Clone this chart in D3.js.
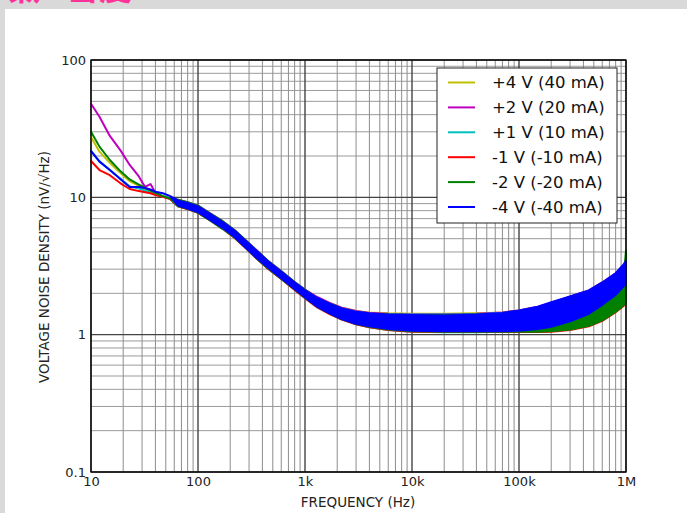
<!DOCTYPE html>
<html>
<head>
<meta charset="utf-8">
<script src="https://cdn.jsdelivr.net/npm/d3@7"></script>
<style>
body { margin:0; background:#d9d9d9; overflow:hidden; }
#chart { position:absolute; left:0; top:0; }
</style>
</head>
<body>
<div id="chart"></div>
<script>
// frequencies shared by every trace (Hz)
const freqs = [10,12,15,19,23,28,32,36,40,47,55,
  65,80,100,130,170,220,280,350,450,600,800,1000,
  1300,1700,2200,3000,4000,6000,10000,20000,40000,70000,100000,150000,200000,300000,450000,600000,800000,950000,1000000];

const names = ["+4 V (40 mA)","+2 V (20 mA)","+1 V (10 mA)","-1 V (-10 mA)","-2 V (-20 mA)","-4 V (-40 mA)"];
const colors = ["#bfbf00","#bf00bf","#00bfbf","#ff0000","#008000","#0000ff"];

// 10..55 Hz : single line
const lfYellow  = [27.5,21.5,17.8,15.0,13.1,12.1,11.4,11.0,10.6,10.1,9.8];
const lfMagenta = [48,38.6,28,21.8,17.2,14.2,11.9,12.5,10.8,10.1,9.8];
const lfCyan    = [21.9,18.3,15.8,13.6,12.0,11.6,11.2,10.8,10.5,10.2,9.8];
const lfRed     = [18.4,15.8,14.5,12.6,11.5,11.1,10.9,10.7,10.4,10.1,9.7];
const lfGreen   = [30,23.4,18.7,15.4,13.5,12.4,11.7,11.2,10.8,10.2,9.8];
const lfBlue    = [21.7,18.2,15.8,13.5,11.9,11.9,11.7,11.4,11.0,10.7,10.2];

// 65 Hz..1 MHz : lower and upper edge of the noisy trace
const loYellow  = [8.8,8.3,7.85,6.9,6.0,5.2,4.35,3.7,3.1,2.6,2.16,1.88, 1.62,1.45,1.32,1.22,1.16,1.11,1.08,1.07,1.07,1.07,1.08,1.10,1.13,1.22,1.38,1.58,1.88,2.15,2.25];
const hiYellow  = [9.5,9.1,8.65,7.6,6.65,5.75,4.85,4.1,3.45,2.9,2.42,2.12, 1.86,1.70,1.57,1.49,1.45,1.43,1.42,1.42,1.43,1.45,1.50,1.58,1.70,1.88,2.08,2.38,2.78,3.15,3.30];
const loMagenta = [8.7,8.3,7.8,6.85,6.0,5.15,4.3,3.65,3.08,2.58,2.15,1.87, 1.62,1.44,1.31,1.21,1.15,1.10,1.07,1.06,1.06,1.06,1.07,1.10,1.13,1.23,1.40,1.60,1.90,2.20,2.30];
const hiMagenta = [9.6,9.2,8.7,7.65,6.7,5.75,4.85,4.15,3.45,2.9,2.42,2.13, 1.88,1.70,1.57,1.49,1.44,1.42,1.41,1.41,1.42,1.45,1.50,1.60,1.70,1.90,2.10,2.40,2.80,3.20,3.35];
const loCyan    = [8.7,8.25,7.75,6.8,5.95,5.1,4.3,3.62,3.05,2.56,2.13,1.85, 1.60,1.42,1.30,1.19,1.13,1.08,1.05,1.04,1.04,1.05,1.06,1.09,1.12,1.20,1.36,1.56,1.85,2.10,2.20];
const hiCyan    = [9.5,9.1,8.6,7.55,6.6,5.7,4.8,4.1,3.42,2.88,2.4,2.1, 1.84,1.68,1.55,1.47,1.42,1.40,1.40,1.40,1.41,1.44,1.48,1.57,1.68,1.86,2.05,2.35,2.75,3.10,3.25];
const loRed     = [8.6,8.2,7.7,6.8,5.9,5.05,4.25,3.6,3.02,2.54,2.12,1.84, 1.58,1.41,1.29,1.19,1.13,1.08,1.05,1.045,1.045,1.045,1.045,1.045,1.05,1.08,1.15,1.26,1.46,1.62,1.73];
const hiRed     = [9.4,9.0,8.55,7.5,6.55,5.65,4.75,4.05,3.4,2.85,2.38,2.08, 1.82,1.66,1.53,1.45,1.41,1.39,1.38,1.38,1.39,1.40,1.42,1.44,1.48,1.55,1.65,1.82,2.10,2.40,2.50];
const loGreen   = [8.6,8.25,7.75,6.8,5.9,5.1,4.3,3.62,3.05,2.56,2.14,1.86, 1.60,1.43,1.30,1.20,1.14,1.09,1.06,1.05,1.05,1.05,1.05,1.05,1.06,1.09,1.16,1.27,1.47,1.64,1.75];
const hiGreen   = [9.6,9.2,8.7,7.6,6.7,5.75,4.85,4.12,3.44,2.88,2.41,2.12, 1.84,1.68,1.55,1.46,1.42,1.40,1.39,1.39,1.40,1.41,1.43,1.46,1.50,1.58,1.70,1.90,2.25,2.60,4.10];
const loBlue    = [8.7,8.3,7.8,6.85,6.0,5.15,4.3,3.65,3.08,2.58,2.15,1.87, 1.60,1.43,1.30,1.20,1.15,1.10,1.07,1.06,1.06,1.06,1.07,1.10,1.14,1.25,1.42,1.65,1.95,2.25,2.35];
const hiBlue    = [9.5,9.1,8.6,7.55,6.6,5.7,4.8,4.1,3.42,2.87,2.4,2.1, 1.85,1.68,1.55,1.47,1.43,1.40,1.39,1.38,1.40,1.44,1.50,1.60,1.72,1.90,2.10,2.40,2.80,3.25,3.45];

const xTicks = [10,100,1000,10000,100000,1000000];
const xTickLabels = ["10","100","1k","10k","100k","1M"];
const yTicks = [0.1,1,10,100];
const yTickLabels = ["0.1","1","10","100"];

const series = [
  {lf:lfYellow,  lo:loYellow,  hi:hiYellow},
  {lf:lfMagenta, lo:loMagenta, hi:hiMagenta},
  {lf:lfCyan,    lo:loCyan,    hi:hiCyan},
  {lf:lfRed,     lo:loRed,     hi:hiRed},
  {lf:lfGreen,   lo:loGreen,   hi:hiGreen},
  {lf:lfBlue,    lo:loBlue,    hi:hiBlue}
].map((s,i) => {
  let lo = s.lf.concat(s.lo), hi = s.lf.concat(s.hi);
  return {name:names[i], color:colors[i], pts:freqs.map((f,j) => ({f:f, lo:lo[j], hi:hi[j]}))};
});

const W = 687, H = 513;
const svg = d3.select("#chart").append("svg").attr("width",W).attr("height",H);

// white page panel and pink heading cut by the top edge
svg.append("rect").attr("x",5).attr("y",9).attr("width",W).attr("height",H).attr("fill","#fff");
svg.append("text").attr("x",0).attr("y",0)
  .style("font-family","'Noto Sans CJK SC'").style("font-size","33px").style("font-weight","bold")
  .attr("fill","#ff3399").text("噪声密度");

const x = d3.scaleLog().domain([10,1e6]).range([91,626]);
const y = d3.scaleLog().domain([0.1,100]).range([472,60]);

const g = svg.append("g");

// grid
let minorX = [], minorY = [];
for (let d = 10; d < 1e6; d *= 10) for (let k = 2; k <= 9; k++) minorX.push(d*k);
for (let d = 0.1; d < 99; d *= 10) for (let k = 2; k <= 9; k++) minorY.push(d*k);

g.selectAll(".mx").data(minorX).enter().append("line")
  .attr("x1",d=>x(d)).attr("x2",d=>x(d)).attr("y1",60).attr("y2",472)
  .attr("stroke","#808080").attr("stroke-width",0.9);
g.selectAll(".my").data(minorY).enter().append("line")
  .attr("y1",d=>y(d)).attr("y2",d=>y(d)).attr("x1",91).attr("x2",626)
  .attr("stroke","#909090").attr("stroke-width",0.9);
g.selectAll(".Mx").data(xTicks).enter().append("line")
  .attr("x1",d=>x(d)).attr("x2",d=>x(d)).attr("y1",60).attr("y2",472)
  .attr("stroke","#444").attr("stroke-width",1.4);
g.selectAll(".My").data(yTicks).enter().append("line")
  .attr("y1",d=>y(d)).attr("y2",d=>y(d)).attr("x1",91).attr("x2",626)
  .attr("stroke","#444").attr("stroke-width",1.4);

// traces
const area = d3.area().x(d=>x(d.f)).y0(d=>y(d.lo)).y1(d=>y(d.hi));
const plot = svg.append("g");
series.forEach(s => {
  plot.append("path").datum(s.pts)
    .attr("d",area)
    .attr("fill",s.color)
    .attr("stroke",s.color)
    .attr("stroke-width",2)
    .attr("stroke-linejoin","round");
});

// frame
svg.append("rect").attr("x",91).attr("y",60).attr("width",535).attr("height",412)
  .attr("fill","none").attr("stroke","#000").attr("stroke-width",1.3);

// axes labels
const font = "'DejaVu Sans'";
const xAxis = d3.axisBottom(x).tickValues(xTicks).tickFormat((d,i)=>xTickLabels[i]).tickSize(0).tickPadding(5);
const ax = svg.append("g").attr("transform","translate(0,472)").call(xAxis);
ax.select(".domain").remove();
ax.selectAll("text").style("font-family",font).style("font-size","13px").attr("fill","#222");

const yAxis = d3.axisLeft(y).tickValues(yTicks).tickFormat((d,i)=>yTickLabels[i]).tickSize(0).tickPadding(5);
const ay = svg.append("g").attr("transform","translate(91,0)").call(yAxis);
ay.select(".domain").remove();
ay.selectAll("text").style("font-family",font).style("font-size","13px").attr("fill","#222");

svg.append("text").attr("x",358).attr("y",507).attr("text-anchor","middle")
  .style("font-family",font).style("font-size","13.5px").attr("fill","#222")
  .text("FREQUENCY (Hz)");
svg.append("text").attr("transform","translate(49,267) rotate(-90)").attr("text-anchor","middle")
  .style("font-family",font).style("font-size","13.5px").attr("fill","#222")
  .text("VOLTAGE NOISE DENSITY (nV/√Hz)");

// legend
const lg = svg.append("g").attr("transform","translate(437,68)");
lg.append("rect").attr("width",180).attr("height",155).attr("fill","#fff")
  .attr("stroke","#222").attr("stroke-width",1);
series.forEach((s,i) => {
  let yy = 14.5 + i*24.9;
  lg.append("line").attr("x1",11).attr("x2",38).attr("y1",yy).attr("y2",yy)
    .attr("stroke",s.color).attr("stroke-width",2);
  lg.append("text").attr("x",55).attr("y",yy).attr("dy","0.35em")
    .style("font-family",font).style("font-size","16.5px").attr("fill","#111")
    .text(s.name);
});
</script>
</body>
</html>
